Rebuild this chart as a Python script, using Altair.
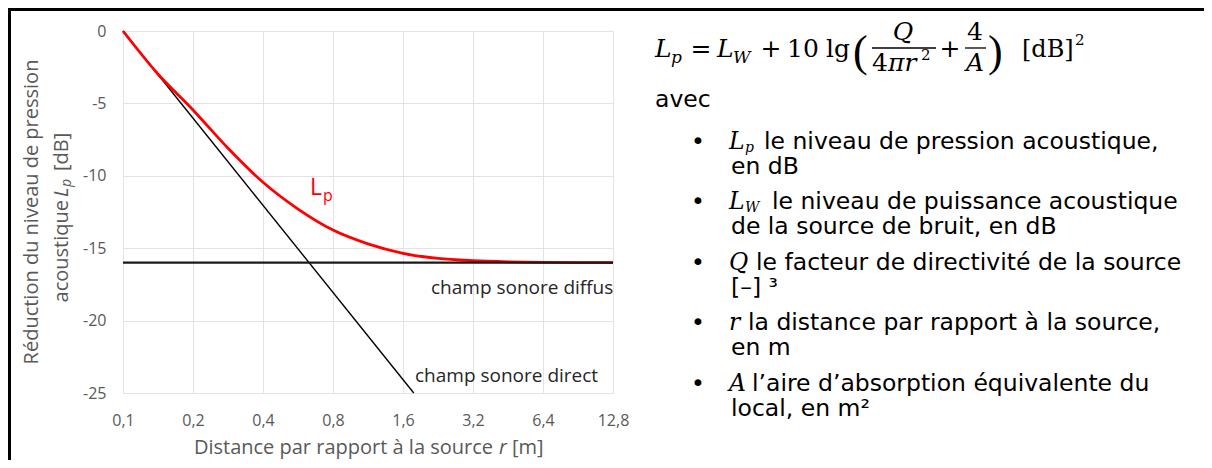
import altair as alt
import pandas as pd

# ---------------- data ----------------
x_ticks = [0.1, 0.2, 0.4, 0.8, 1.6, 3.2, 6.4, 12.8]
y_ticks = [0, -5, -10, -15, -20, -25]

direct_r = [0.1, 1.78]
direct_db = [0.0, -25.0]

diffuse_r = [0.1, 12.8]
diffuse_db = [-16.0, -16.0]

lp_r = [0.1, 0.141, 0.2, 0.283, 0.4, 0.566, 0.8, 1.13, 1.6, 2.26, 3.2, 4.53, 6.4, 9.05, 12.8]
lp_db = [0.0, -2.95, -5.45, -8.1, -10.45, -12.3, -13.75, -14.7, -15.35, -15.7, -15.86,
         -15.94, -15.98, -16.0, -16.0]

# ---------------- layout ----------------
PAGE_W, PAGE_H = 1196, 452
PLOT_L, PLOT_T, PLOT_R, PLOT_B = 123, 31, 613, 393
W = PLOT_R - PLOT_L
H = PLOT_B - PLOT_T
PAD_L = PLOT_L - 8
PAD_T = PLOT_T - 8
PAD_R = PAGE_W - PAD_L - W
PAD_B = PAGE_H - PAD_T - H


def px(x):
    return x - PLOT_L


def py(y):
    return y - PLOT_T


CH = "Open Sans"
SANS = "DejaVu Sans"
SERIF = "DejaVu Serif"
PAREN = "Liberation Serif"
AX = "#595959"
ONE = alt.Data(values=[{"k": 1}])


def txt(s, x, y, size, font=SANS, color="#000000", style="normal",
        align="left", baseline="alphabetic", angle=None):
    kw = dict(text=s, align=align, baseline=baseline, font=font, fontSize=size,
              fontStyle=style, color=color)
    if angle is not None:
        kw["angle"] = angle
    return alt.Chart(ONE).mark_text(**kw).encode(x=alt.value(px(x)), y=alt.value(py(y)))


def hline(x1, x2, y, w=1.3, color="#000000"):
    return alt.Chart(ONE).mark_rule(color=color, strokeWidth=w).encode(
        x=alt.value(px(x1)), x2=alt.value(px(x2)), y=alt.value(py(y)))


def vline(x, y1, y2, w=1.3, color="#000000"):
    return alt.Chart(ONE).mark_rule(color=color, strokeWidth=w).encode(
        x=alt.value(px(x)), y=alt.value(py(y1)), y2=alt.value(py(y2)))


xs = alt.Scale(type="log", base=2, domain=[0.1, 12.8], nice=False)
ys = alt.Scale(domain=[-25, 0], nice=False)
xax = alt.Axis(values=x_ticks, labelExpr="replace(format(datum.value, '.1f'), '.', ',')",
               title=None, grid=True, gridColor="#e3e3e3", gridWidth=1, domain=False,
               ticks=False, tickSize=0, labelPadding=27, labelBaseline="middle",
               labelFlush=False, labelOverlap=False,
               labelFont=CH, labelFontSize=16, labelColor=AX)
yax = alt.Axis(values=y_ticks, labelExpr="'' + datum.value",
               title=None, grid=True, gridColor="#e3e3e3", gridWidth=1, domain=False,
               ticks=False, tickSize=0, labelPadding=17, labelOverlap=False,
               labelFont=CH, labelFontSize=16, labelColor=AX)


def line(r, db, color, width, interp="linear"):
    df = pd.DataFrame({"r": r, "db": db})
    return alt.Chart(df).mark_line(color=color, strokeWidth=width, interpolate=interp).encode(
        x=alt.X("r:Q", scale=xs, axis=xax),
        y=alt.Y("db:Q", scale=ys, axis=yax))


layers = [
    line(direct_r, direct_db, "#000000", 1.4),
    line(lp_r, lp_db, "#ff0000", 2.8, "monotone"),
    line(diffuse_r, diffuse_db, "#1a1a1a", 2.2),
]

# border of the frame
layers += [vline(9.5, 8, 470, 3), hline(8, 1220, 9.5, 3)]

# chart annotations
layers += [
    txt("L", 310, 195, 23, CH, "#ff0000"),
    txt("p", 323, 201, 16, CH, "#ff0000"),
    txt("champ sonore diffus", 431, 288, 19, CH, "#262626", baseline="middle"),
    txt("champ sonore direct", 415, 376, 19, CH, "#262626", baseline="middle"),
]

# axis titles
layers += [
    txt("Distance par rapport à la source", 493, 448, 20, CH, AX, align="right", baseline="middle"),
    txt("r", 499, 448, 20, CH, AX, style="italic", baseline="middle"),
    txt("[m]", 512, 448, 20, CH, AX, baseline="middle"),
    txt("Réduction du niveau de pression", 32, 212, 20, CH, AX, align="center",
        baseline="middle", angle=270),
    txt("acoustique", 62, 200, 20, CH, AX, align="right", baseline="middle", angle=270),
    txt("L", 62, 197, 20, CH, AX, style="italic", align="left", baseline="middle", angle=270),
    txt("p", 67, 187, 14, CH, AX, style="italic", align="left", baseline="middle", angle=270),
    txt("[dB]", 62, 171, 20, CH, AX, align="left", baseline="middle", angle=270),
]

# formula
F = 25
fb = 57
num_b = 40
den_b = 71
bar_y = 48
layers += [
    txt("L", 655, fb, F, SERIF, style="italic"),
    txt("p", 671, fb + 6, 17, SERIF, style="italic"),
    txt("=", 701, fb, F, SERIF, align="center"),
    txt("L", 717, fb, F, SERIF, style="italic"),
    txt("W", 733, fb + 6, 17, SERIF, style="italic"),
    txt("+", 771, fb, F, SERIF, align="center"),
    txt("10", 787, fb, F, SERIF),
    txt("lg", 826, fb, F, SERIF),
    txt("(", 853, fb + 9, 44, PAREN),
    txt("Q", 903, num_b, F, SERIF, style="italic", align="center"),
    hline(872, 936, bar_y, 1.3),
    txt("4", 872, den_b, F, SERIF),
    txt("πr", 888, den_b, F, SERIF, style="italic"),
    txt("2", 921, den_b - 11, 15, SERIF),
    txt("+", 950, fb, F, SERIF, align="center"),
    txt("4", 975, num_b, F, SERIF, align="center"),
    hline(965, 986, bar_y, 1.3),
    txt("A", 975, den_b, F, SERIF, style="italic", align="center"),
    txt(")", 988, fb + 9, 44, PAREN),
    txt("[dB]", 1022, fb, 24, SERIF),
    txt("2", 1075, fb - 12, 15, SERIF),
]

# explanatory text
T = 23.5
TX = 731
BX = 698
rows = [149, 174, 209, 234, 270, 295, 330, 355, 391, 416]
layers += [txt("avec", 655, 107, T)]
for b in (rows[0], rows[2], rows[4], rows[6], rows[8]):
    layers.append(txt("•", BX, b, T, align="center"))
layers += [
    txt("L", 729, rows[0], T, SERIF, style="italic"),
    txt("p", 745, rows[0] + 3, 14, SERIF, style="italic"),
    txt("le niveau de pression acoustique,", 764, rows[0], T),
    txt("en dB", TX, rows[1], T),
    txt("L", 729, rows[2], T, SERIF, style="italic"),
    txt("W", 745, rows[2] + 3, 14, SERIF, style="italic"),
    txt("le niveau de puissance acoustique", 772, rows[2], T),
    txt("de la source de bruit, en dB", TX, rows[3], T),
    txt("Q", 729, rows[4], T, SERIF, style="italic"),
    txt("le facteur de directivité de la source", 756, rows[4], T),
    txt("[–] ³", TX, rows[5], T),
    txt("r", 729, rows[6], T, SERIF, style="italic"),
    txt("la distance par rapport à la source,", 748, rows[6], T),
    txt("en m", TX, rows[7], T),
    txt("A", 729, rows[8], T, SERIF, style="italic"),
    txt("l’aire d’absorption équivalente du", 752, rows[8], T),
    txt("local, en m²", TX, rows[9], T),
]

chart = alt.layer(*layers).properties(
    width=W, height=H,
    padding={"left": PAD_L, "top": PAD_T, "right": PAD_R, "bottom": PAD_B},
    autosize=alt.AutoSizeParams(type="none"),
    background="white",
).configure_view(strokeWidth=0)

chart.save("out.html", embed_options={"renderer": "svg", "actions": False})
